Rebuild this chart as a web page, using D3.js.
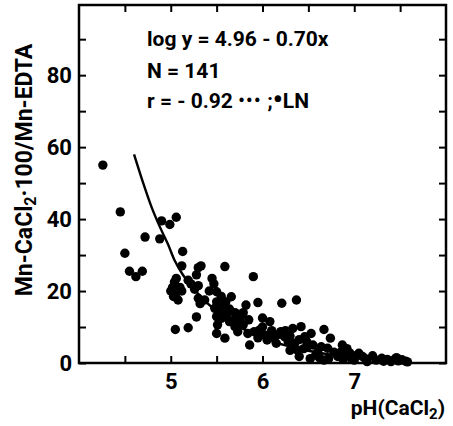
<!DOCTYPE html>
<html>
<head>
<meta charset="utf-8">
<script src="https://cdn.jsdelivr.net/npm/d3@7"></script>
<style>
  html, body { margin: 0; padding: 0; background: #fff; }
  svg { display: block; }
  text { font-family: Roboto, "DejaVu Sans", sans-serif; fill: #000; }
</style>
</head>
<body>
<svg id="chart" width="453" height="426"></svg>
<script>
// ---- data ----
const pointX = [
  4.26,4.45,4.50,4.55,4.62,4.69,4.72,4.88,4.90,4.99,5.06,
  5.13,5.12,5.06,5.04,5.02,5.00,5.05,5.08,5.03,5.10,5.12,5.05,5.19,5.19,
  5.30,5.33,5.28,5.26,5.30,5.30,5.37,5.28,5.32,5.22,
  5.45,5.47,5.50,5.50,5.48,5.53,5.50,5.55,5.51,5.50,5.59,5.59,5.60,5.60,5.57,
  5.64,5.68,5.70,5.66,5.64,5.73,5.75,5.77,5.73,5.79,5.79,5.82,5.84,5.86,5.70,
  5.90,5.95,5.91,5.97,6.02,6.09,6.08,6.05,5.95,6.00,6.10,
  6.21,6.37,6.15,6.20,6.24,6.33,6.28,6.35,6.18,6.13,6.25,6.30,6.40,
  6.42,6.46,6.53,6.38,6.40,6.49,6.58,6.45,6.55,6.52,6.60,
  6.67,6.74,6.64,6.71,6.67,6.62,6.72,6.78,
  6.87,6.85,6.90,6.88,6.95,6.97,6.82,6.92,
  7.05,7.09,7.00,7.14,7.20,7.02,7.12,
  7.24,7.32,7.36,7.40,7.44,7.48,7.52,7.56,7.58,7.30,7.46,
  5.42,5.55,5.62,5.85,6.00,6.48,6.30
];
const pointY = [
  55,42,30.5,25.5,24,25.5,35,34.5,39.5,38.5,40.5,
  31,27,23.5,22.5,21,20,19,17.5,18.5,21,20,9.3,9.8,23,
  26.5,27,24.5,20.5,21.5,18,17.5,12.8,16.5,22,
  23.5,22,19.8,17,15.2,14.3,12.9,12.4,10.6,8.2,6.9,26.8,17,12.9,16,
  11.5,11.9,10.1,18.4,15,8.7,12,13.3,11,10.6,14,16.1,8.2,5,14,
  24,16.8,8.7,9.2,7.8,7.3,11.5,6.4,7,10,9,
  16.6,17.5,5.5,8.7,7.3,9.6,5.9,5.5,8,7,9,7.5,6.5,
  10.1,7.3,8.2,3.6,1.8,4.5,2.2,4,5,1.2,3,
  9.3,6.9,4.5,4.1,0.8,1.5,1.2,3,
  5,3,2,1,2.8,1.2,1.8,4,
  2.7,1.8,0.8,0.4,2,2,1.2,
  0.8,0.5,1,0.4,1,0.6,0.9,0.5,0.3,1.3,1.5,
  20,18.5,14,12,12.5,6,3.5
];
// regression curve
const curveX = [4.60,4.70,4.79,4.88,4.97,5.04,5.13,5.22,5.35,5.50,5.75,6.00,6.25,6.50,6.75,7.00,7.25,7.50];
const curveY = [58.0,50.0,43.4,37.9,33.0,28.6,24.6,21.6,17.8,14.4,10.0,7.0,4.9,3.4,2.3,1.6,1.1,0.7];

const xMinorTicks = [4.5,5,5.5,6,6.5,7,7.5];
const xLabels = [5,6,7];
const yMinorTicks = [0,10,20,30,40,50,60,70,80,90];
const yLabels = [0,20,40,60,80];

const xTitle = "pH(CaCl";
const yTitleParts = ["Mn-CaCl", "2", "\u00B7100/Mn-EDTA"];
const annot1 = "log y = 4.96 - 0.70x";
const annot2 = "N = 141";

// ---- layout ----
const L = 79, R = 446, T = 5, B = 363;
const svg = d3.select("#chart");
const x = d3.scaleLinear().domain([4, 8]).range([L, R]);
const y = d3.scaleLinear().domain([0, 99.5]).range([B, T]);

// points
const pts = pointX.map((v, i) => ({x: v, y: pointY[i]}));
svg.append("g").selectAll("circle").data(pts).join("circle")
  .attr("cx", d => x(d.x)).attr("cy", d => y(d.y)).attr("r", 4.7).attr("fill", "#000");

// curve
const curve = curveX.map((v, i) => [v, curveY[i]]);
svg.append("path")
  .attr("d", d3.line().x(d => x(d[0])).y(d => y(d[1])).curve(d3.curveMonotoneX)(curve))
  .attr("fill", "none").attr("stroke", "#000").attr("stroke-width", 2.4);

// axes
function styleAxis(g) {
  g.select(".domain").remove();
  g.selectAll(".tick line").attr("stroke", "#000").attr("stroke-width", 2);
  g.selectAll(".tick text").attr("font-size", 22).attr("font-weight", 700);
}
svg.append("g").attr("transform", `translate(0,${B})`)
  .call(d3.axisBottom(x).tickValues(xMinorTicks).tickSize(-7).tickPadding(10)
    .tickFormat(d => xLabels.includes(d) ? d : ""))
  .call(styleAxis);
svg.append("g").attr("transform", `translate(0,${T})`)
  .call(d3.axisTop(x).tickValues(xMinorTicks).tickSize(-7).tickFormat(""))
  .call(styleAxis);
svg.append("g").attr("transform", `translate(${L},0)`)
  .call(d3.axisLeft(y).tickValues(yMinorTicks).tickSize(-7).tickPadding(7)
    .tickFormat(d => yLabels.includes(d) ? d : ""))
  .call(styleAxis);
svg.append("g").attr("transform", `translate(${R},0)`)
  .call(d3.axisRight(y).tickValues(yMinorTicks).tickSize(-7).tickFormat(""))
  .call(styleAxis);

// frame
svg.append("rect").attr("x", L).attr("y", T).attr("width", R - L).attr("height", B - T)
  .attr("fill", "none").attr("stroke", "#000").attr("stroke-width", 2.5);

// annotations
const ann = svg.append("g").attr("font-size", 21).attr("font-weight", 700);
ann.append("text").attr("x", 147).attr("y", 46).text(annot1);
ann.append("text").attr("x", 147).attr("y", 78).text(annot2);
const t3 = ann.append("text").attr("x", 147).attr("y", 108);
t3.append("tspan").text("r  = - 0.92 ");
t3.append("tspan").attr("font-size", 18).attr("letter-spacing", 1.5).attr("dy", -1).text("\u2022\u2022\u2022");
t3.append("tspan").attr("dy", 1).text(" ;");
t3.append("tspan").attr("font-size", 28).attr("dy", 1).text("\u2022");
t3.append("tspan").attr("dy", -1).text("LN");

// x title
const xt = svg.append("text").attr("x", 445).attr("y", 415).attr("text-anchor", "end")
  .attr("font-size", 21).attr("font-weight", 700);
xt.append("tspan").text(xTitle);
xt.append("tspan").attr("font-size", 15).attr("dy", 4).text("2");
xt.append("tspan").attr("dy", -4).text(")");

// y title
const yt = svg.append("text").attr("transform", "translate(32,170) rotate(-90)")
  .attr("text-anchor", "middle").attr("font-size", 23).attr("font-weight", 700);
yt.append("tspan").text(yTitleParts[0]);
yt.append("tspan").attr("font-size", 16).attr("dy", 4).text(yTitleParts[1]);
yt.append("tspan").attr("dy", -4).text(yTitleParts[2]);
</script>
</body>
</html>
